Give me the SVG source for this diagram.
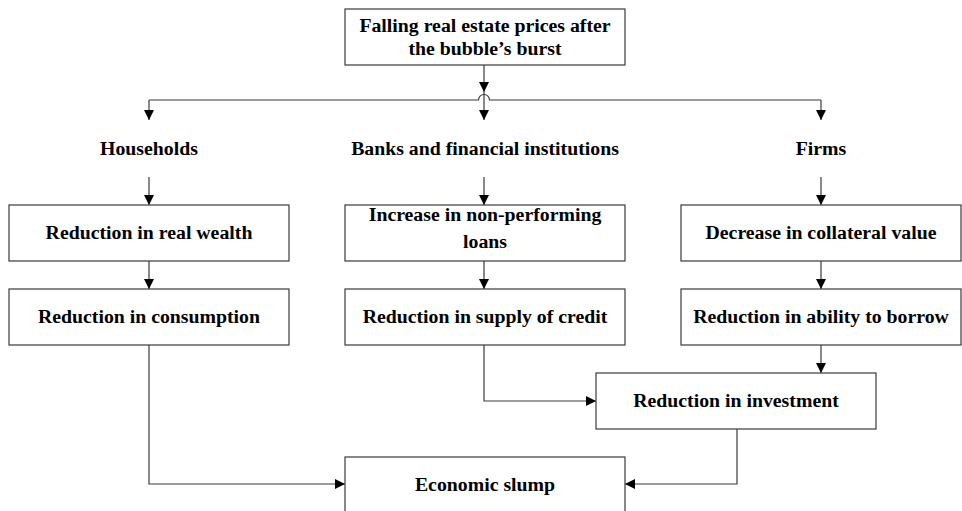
<svg xmlns="http://www.w3.org/2000/svg" width="962" height="511" viewBox="0 0 962 511">
<style>
.box{fill:#fff;stroke:#3a3a3a;stroke-width:1.2}
.t{font-family:"Liberation Serif","Times New Roman",serif;font-weight:bold;font-size:19.8px;fill:#000;text-anchor:middle}
.c{fill:none;stroke:#3a3a3a;stroke-width:1.2}
</style>
<defs>
<marker id="ah" markerUnits="userSpaceOnUse" markerWidth="10" markerHeight="10" refX="10" refY="5" orient="auto">
<path d="M0,0 L10,5 L0,10 z" fill="#000"/>
</marker>
</defs>
<rect width="962" height="511" fill="#fff"/>
<g id="connectors">
<path class="c" d="M484,65 V92" marker-end="url(#ah)"/>
<path class="c" d="M149,100 H478.5 A5.5,5.5 0 0 1 489.5,100 H821"/>
<path class="c" d="M484,92 V120" marker-end="url(#ah)"/>
<path class="c" d="M149,100 V120" marker-end="url(#ah)"/>
<path class="c" d="M821,100 V120" marker-end="url(#ah)"/>
<path class="c" d="M149,177 V205" marker-end="url(#ah)"/>
<path class="c" d="M484,177 V205" marker-end="url(#ah)"/>
<path class="c" d="M821,177 V205" marker-end="url(#ah)"/>
<path class="c" d="M149,261 V289" marker-end="url(#ah)"/>
<path class="c" d="M484,261 V289" marker-end="url(#ah)"/>
<path class="c" d="M821,261 V289" marker-end="url(#ah)"/>
<path class="c" d="M821,345 V373" marker-end="url(#ah)"/>
<path class="c" d="M484,345 V401 H596" marker-end="url(#ah)"/>
<path class="c" d="M149,345 V484 H345" marker-end="url(#ah)"/>
<path class="c" d="M737,429 V484 H625" marker-end="url(#ah)"/>
</g>
<g id="top">
<rect class="box" x="345" y="9" width="280" height="56"/>
<text class="t" x="485" y="32">Falling real estate prices after</text>
<text class="t" x="485" y="55">the bubble’s burst</text>
</g>
<g id="households"><text class="t" x="149" y="155">Households</text></g>
<g id="banks"><text class="t" x="485" y="155">Banks and financial institutions</text></g>
<g id="firms"><text class="t" x="821" y="155">Firms</text></g>
<g id="wealth">
<rect class="box" x="9" y="205" width="280" height="56"/>
<text class="t" x="149" y="239">Reduction in real wealth</text>
</g>
<g id="npl">
<rect class="box" x="345" y="205" width="280" height="56"/>
<text class="t" x="485" y="221">Increase in non-performing</text>
<text class="t" x="485" y="248">loans</text>
</g>
<g id="collateral">
<rect class="box" x="681" y="205" width="280" height="56"/>
<text class="t" x="821" y="239">Decrease in collateral value</text>
</g>
<g id="consumption">
<rect class="box" x="9" y="289" width="280" height="56"/>
<text class="t" x="149" y="323">Reduction in consumption</text>
</g>
<g id="credit">
<rect class="box" x="345" y="289" width="280" height="56"/>
<text class="t" x="485" y="323">Reduction in supply of credit</text>
</g>
<g id="borrow">
<rect class="box" x="681" y="289" width="280" height="56"/>
<text class="t" x="821" y="323">Reduction in ability to borrow</text>
</g>
<g id="investment">
<rect class="box" x="596" y="373" width="280" height="56"/>
<text class="t" x="736" y="407">Reduction in investment</text>
</g>
<g id="slump">
<rect class="box" x="345" y="457" width="280" height="60"/>
<text class="t" x="485" y="491">Economic slump</text>
</g>
</svg>
